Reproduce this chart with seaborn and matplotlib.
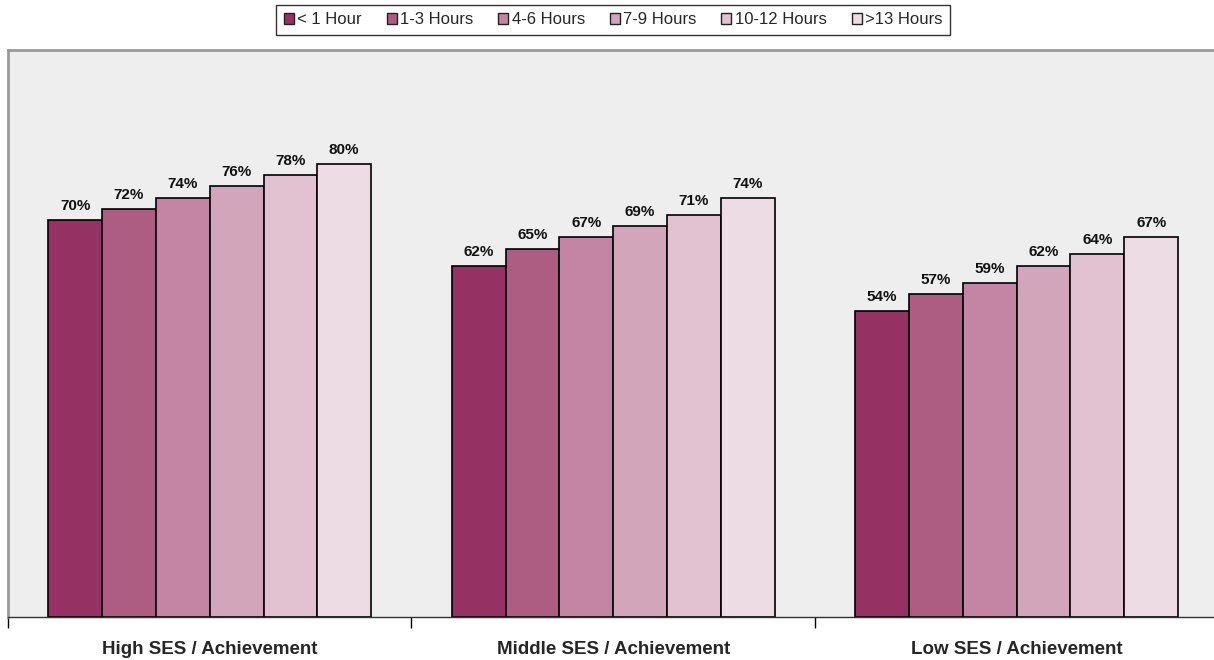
import pandas as pd
import matplotlib.pyplot as plt
import seaborn as sns

# ------------------------- Data -------------------------
groups = ["High SES / Achievement", "Middle SES / Achievement", "Low SES / Achievement"]
hours = ["< 1 Hour", "1-3 Hours", "4-6 Hours", "7-9 Hours", "10-12 Hours", ">13 Hours"]
high_ses = [70, 72, 74, 76, 78, 80]
middle_ses = [62, 65, 67, 69, 71, 74]
low_ses = [54, 57, 59, 62, 64, 67]
colors = ["#953163", "#AD5C82", "#C385A3", "#D3A5BB", "#E2C1D1", "#EEDCE5"]

rows = []
for g, vals in zip(groups, [high_ses, middle_ses, low_ses]):
    for h, v in zip(hours, vals):
        rows.append((g, h, v))
df = pd.DataFrame(rows, columns=["group", "hours", "pct"])

# ------------------------- Plot -------------------------
sns.set_style("white")
plt.rcParams['font.family'] = ['Liberation Sans', 'DejaVu Sans']

fig = plt.figure(figsize=(12.14, 6.6), dpi=100)
ax = fig.add_axes([0.0066, 0.065, 0.997, 0.859])
ax.set_facecolor("#EEEEEE")

sns.barplot(data=df, x="group", y="pct", hue="hours", palette=colors,
            edgecolor="black", linewidth=1.2, width=0.8, gap=0,
            saturation=1, ax=ax, legend=False)

for cont in ax.containers:
    ax.bar_label(cont, fmt="{:.0f}%", padding=5, fontsize=11,
                 fontweight="bold", color="#111111")

ax.set_ylim(0, 100)
ax.set_xlim(-0.5, 2.5)
ax.set_yticks([])
ax.set_xlabel("")
ax.set_ylabel("")

# category labels, ticks between categories
ax.tick_params(axis="x", which="major", bottom=True, length=0, pad=17, labelsize=13.5)
for lbl in ax.get_xticklabels():
    lbl.set_fontweight("bold")
ax.set_xticks([-0.5, 0.5, 1.5, 2.5], minor=True)
ax.tick_params(axis="x", which="minor", bottom=True, length=8, width=1,
               color="black", direction="out")

for side in ["top", "left", "right"]:
    ax.spines[side].set_color("#999999")
    ax.spines[side].set_linewidth(2)
ax.spines["bottom"].set_color("#333333")
ax.spines["bottom"].set_linewidth(1)

handles = [plt.Rectangle((0, 0), 1, 1, facecolor=c, edgecolor="#222222", lw=1) for c in colors]
leg = fig.legend(handles, hours, loc="upper center", bbox_to_anchor=(0.505, 0.995),
                 ncol=6, fontsize=12, frameon=True, fancybox=False, shadow=False,
                 handlelength=0.6, handleheight=0.6, handletextpad=0.2,
                 columnspacing=1.5, borderpad=0.45, borderaxespad=0.1,
                 edgecolor="black")
leg.get_frame().set_linewidth(1)

plt.savefig("out.png", dpi=100, facecolor="white")
plt.close()
